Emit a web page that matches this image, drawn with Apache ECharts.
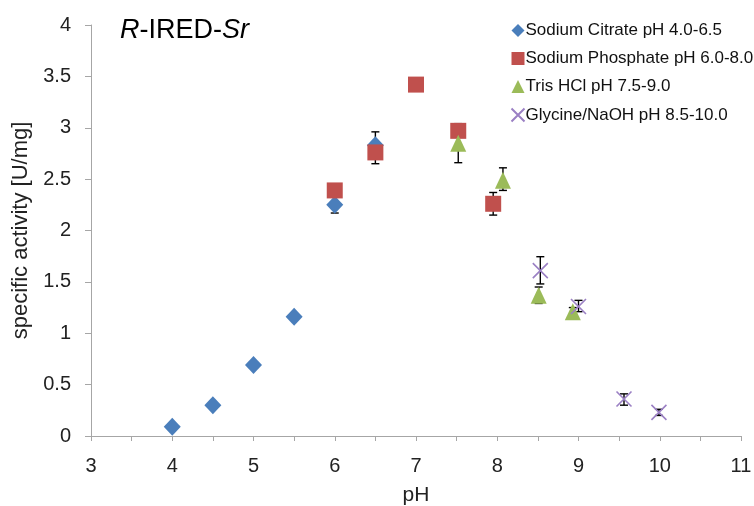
<!DOCTYPE html>
<html><head><meta charset="utf-8">
<script src="https://cdn.jsdelivr.net/npm/echarts@6/dist/echarts.min.js"></script>
<style>html,body{margin:0;padding:0;background:#fff}#c{width:754px;height:506px}</style>
</head><body><div id="c"></div>
<script>
// Data
const citrateX = [4.0, 4.5, 5.0, 5.5, 6.0, 6.5];
const citrateY = [0.09, 0.30, 0.69, 1.16, 2.25, 2.83];
const phosphateX = [6.0, 6.5, 7.0, 7.52, 7.95];
const phosphateY = [2.39, 2.76, 3.42, 2.97, 2.26];
const trisX = [7.52, 8.07, 8.51, 8.93];
const trisY = [2.85, 2.49, 1.37, 1.21];
const glycineX = [8.53, 9.0, 9.56, 9.99];
const glycineY = [1.61, 1.26, 0.36, 0.23];
// error bars: x, low, high
const errX    = [6.0,  6.5,  6.5,  7.95, 7.52, 8.07, 8.51, 8.93, 8.53, 9.0,  9.56, 9.99];
const errLow  = [2.17, 2.70, 2.65, 2.15, 2.66, 2.39, 1.29, 1.17, 1.48, 1.21, 0.30, 0.20];
const errHigh = [2.33, 2.96, 2.86, 2.37, 3.04, 2.61, 1.45, 1.25, 1.745,1.32, 0.41, 0.26];
const seriesNames = ['Sodium Citrate pH 4.0-6.5','Sodium Phosphate pH 6.0-8.0','Tris HCl pH 7.5-9.0','Glycine/NaOH pH 8.5-10.0'];

const zip = (xs, ys) => xs.map((x, i) => [x, ys[i]]);
const FONT = 'Liberation Sans, Arial, sans-serif';
const chart = echarts.init(document.getElementById('c'), null, {renderer: 'canvas'});
const xPath = 'path://M0,0L10,10M10,0L0,10';

chart.setOption({
  animation: false,
  backgroundColor: '#fff',
  textStyle: {fontFamily: FONT},
  title: {
    text: '{i|R}{n|-IRED-}{i|Sr}',
    left: 115, top: 12,
    textStyle: {
      fontWeight: 'normal',
      rich: {
        i: {fontSize: 27, fontStyle: 'italic', fontWeight: 'normal', color: '#000', fontFamily: FONT},
        n: {fontSize: 27, fontWeight: 'normal', color: '#000', fontFamily: FONT}
      }
    }
  },
  legend: {
    orient: 'vertical', left: 504, top: 17, itemGap: 11,
    itemWidth: 13, itemHeight: 13,
    textStyle: {fontSize: 17, color: '#111', fontFamily: FONT, padding: [0,0,0,-4]},
    data: seriesNames
  },
  grid: {left: 91, right: 13, top: 25, bottom: 70, containLabel: false, outerBoundsMode: 'none'},
  xAxis: {
    type: 'value', min: 3, max: 11, interval: 0.5,
    name: 'pH', nameLocation: 'middle', nameGap: 49,
    nameTextStyle: {fontSize: 21, color: '#222', fontFamily: FONT},
    axisLine: {show: true, lineStyle: {color: '#a6a6a6', width: 1}},
    axisTick: {show: true, inside: false, length: 5, lineStyle: {color: '#a6a6a6'}},
    axisLabel: {fontSize: 20, color: '#222', margin: 20, fontFamily: FONT,
      formatter: v => (Math.abs(v - Math.round(v)) < 1e-6 ? String(Math.round(v)) : '')},
    splitLine: {show: false}
  },
  yAxis: {
    type: 'value', min: 0, max: 4, interval: 0.5,
    name: 'specific activity [U/mg]', nameLocation: 'middle', nameGap: 56, nameRotate: 90,
    nameTextStyle: {fontSize: 22, color: '#222', fontFamily: FONT},
    axisLine: {show: true, lineStyle: {color: '#a6a6a6', width: 1}},
    axisTick: {show: true, inside: false, length: 6, lineStyle: {color: '#a6a6a6'}},
    axisLabel: {fontSize: 20, color: '#222', margin: 20, fontFamily: FONT},
    splitLine: {show: false}
  },
  series: [
    {type: 'custom', z: 1, silent: true,
     encode: {x: 0, y: [1, 2]},
     data: errX.map((x, i) => [x, errLow[i], errHigh[i]]),
     renderItem: function (params, api) {
       const x = api.value(0), lo = api.value(1), hi = api.value(2);
       const a = api.coord([x, hi]), b = api.coord([x, lo]);
       const w = 4;
       const st = {stroke: '#000', lineWidth: 1.4};
       return {type: 'group', children: [
         {type: 'line', shape: {x1: a[0], y1: a[1], x2: b[0], y2: b[1]}, style: st},
         {type: 'line', shape: {x1: a[0] - w, y1: a[1], x2: a[0] + w, y2: a[1]}, style: st},
         {type: 'line', shape: {x1: b[0] - w, y1: b[1], x2: b[0] + w, y2: b[1]}, style: st}
       ]};
     }},
    {name: seriesNames[0], type: 'scatter', symbol: 'diamond', symbolSize: [17, 18],
     itemStyle: {color: '#4a7ebb', opacity: 1}, data: zip(citrateX, citrateY), z: 2},
    {name: seriesNames[1], type: 'scatter', symbol: 'rect', symbolSize: 16,
     itemStyle: {color: '#c0504d', opacity: 1}, data: zip(phosphateX, phosphateY), z: 3},
    {name: seriesNames[2], type: 'scatter', symbol: 'triangle', symbolSize: [16, 17],
     itemStyle: {color: '#9bbb59', opacity: 1}, data: zip(trisX, trisY), z: 4},
    {name: seriesNames[3], type: 'scatter', symbol: xPath, symbolSize: 15,
     itemStyle: {color: 'none', borderColor: '#9b80c4', borderWidth: 1.6, opacity: 1}, data: zip(glycineX, glycineY), z: 5}
  ]
});
</script></body></html>
